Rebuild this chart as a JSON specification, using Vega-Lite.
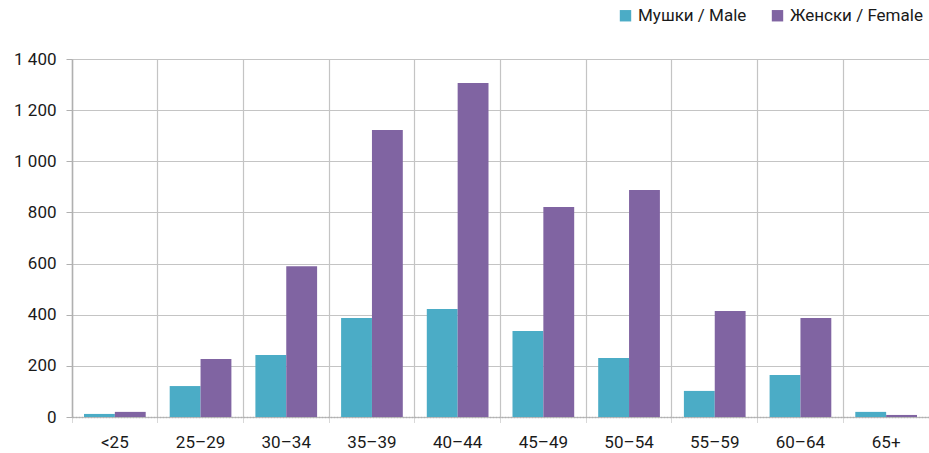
{
  "$schema": "https://vega.github.io/schema/vega-lite/v6.json",
  "width": 857,
  "height": 358,
  "autosize": {"type": "none"},
  "padding": {"left": 72, "top": 59, "right": 0, "bottom": 36},
  "background": "white",
  "config": {
    "view": {"stroke": null},
    "font": "Roboto",
    "axis": {"labelFont": "Roboto", "labelFontSize": 17, "labelColor": "#1a1a1a"},
    "legend": {"labelFont": "Roboto", "labelFontSize": 17, "labelColor": "#1a1a1a"}
  },
  "data": {
    "values": [
      {"age": "<25", "sex": "Мушки / Male", "value": 12},
      {"age": "<25", "sex": "Женски / Female", "value": 20},
      {"age": "25–29", "sex": "Мушки / Male", "value": 121},
      {"age": "25–29", "sex": "Женски / Female", "value": 227},
      {"age": "30–34", "sex": "Мушки / Male", "value": 242},
      {"age": "30–34", "sex": "Женски / Female", "value": 590},
      {"age": "35–39", "sex": "Мушки / Male", "value": 387},
      {"age": "35–39", "sex": "Женски / Female", "value": 1122},
      {"age": "40–44", "sex": "Мушки / Male", "value": 422},
      {"age": "40–44", "sex": "Женски / Female", "value": 1306},
      {"age": "45–49", "sex": "Мушки / Male", "value": 336},
      {"age": "45–49", "sex": "Женски / Female", "value": 821},
      {"age": "50–54", "sex": "Мушки / Male", "value": 231},
      {"age": "50–54", "sex": "Женски / Female", "value": 888},
      {"age": "55–59", "sex": "Мушки / Male", "value": 102},
      {"age": "55–59", "sex": "Женски / Female", "value": 415},
      {"age": "60–64", "sex": "Мушки / Male", "value": 164},
      {"age": "60–64", "sex": "Женски / Female", "value": 387},
      {"age": "65+", "sex": "Мушки / Male", "value": 20},
      {"age": "65+", "sex": "Женски / Female", "value": 8}
    ]
  },
  "mark": {"type": "bar"},
  "encoding": {
    "x": {
      "field": "age",
      "type": "nominal",
      "sort": null,
      "title": null,
      "scale": {"paddingInner": 0.28, "paddingOuter": 0.14},
      "axis": {
        "bandPosition": -0.1944,
        "labelAngle": 0,
        "labelPadding": 12,
        "labelOffset": 0,
        "grid": true,
        "gridColor": "#c4c4c4",
        "gridWidth": 1.2,
        "domainColor": "#b0b0b0",
        "domainDash": [2, 1],
        "domainWidth": 1.5,
        "tickColor": "#b0b0b0",
        "tickSize": 5,
        "tickDash": [1, 1]
      }
    },
    "xOffset": {"field": "sex", "type": "nominal", "sort": ["Мушки / Male", "Женски / Female"], "scale": {"paddingInner": 0}},
    "y": {
      "field": "value",
      "type": "quantitative",
      "title": null,
      "scale": {"domain": [0, 1400], "nice": false},
      "axis": {
        "values": [0, 200, 400, 600, 800, 1000, 1200, 1400],
        "labelExpr": "replace(format(datum.value, ','), ',', ' ')",
        "labelPadding": 10,
        "grid": true,
        "gridColor": "#c4c4c4",
        "gridWidth": 1.2,
        "domainColor": "#b0b0b0",
        "domainWidth": 1.5,
        "tickColor": "#b0b0b0",
        "tickSize": 6
      }
    },
    "color": {
      "field": "sex",
      "type": "nominal",
      "sort": ["Мушки / Male", "Женски / Female"],
      "scale": {"domain": ["Мушки / Male", "Женски / Female"], "range": ["#4BACC6", "#8064A2"]},
      "legend": {
        "title": null,
        "orient": "none",
        "legendX": 545,
        "legendY": -52,
        "direction": "horizontal",
        "symbolType": "square",
        "symbolSize": 130,
        "symbolStrokeWidth": 0,
        "columnPadding": 22,
        "labelOffset": 4
      }
    }
  }
}
